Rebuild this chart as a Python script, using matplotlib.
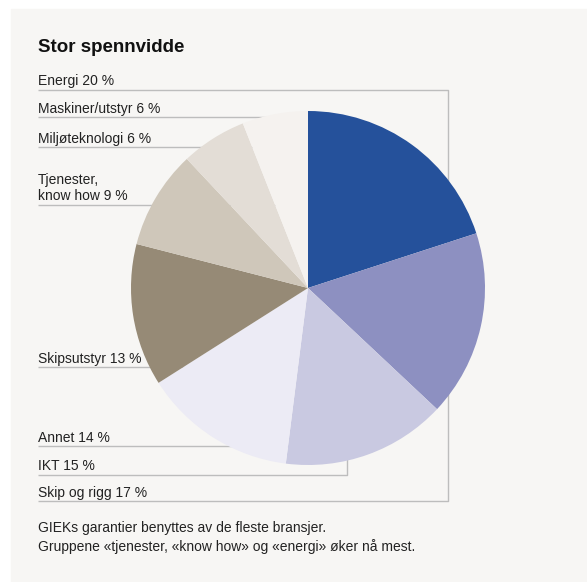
import matplotlib.pyplot as plt
from matplotlib.patches import Rectangle

# Data (clockwise from 12 o'clock)
sectors = ["Energi", "Skip og rigg", "IKT", "Annet", "Skipsutstyr",
           "Tjenester,\nknow how", "Miljøteknologi", "Maskiner/utstyr"]
shares = [20, 17, 15, 14, 13, 9, 6, 6]
colors = ["#25519B", "#8D90C1", "#C9C9E1", "#ECEBF5", "#968A76",
          "#CFC7BA", "#E3DDD6", "#F5F2EF"]

# label rows on the left, top to bottom, with their underline y (pixels)
label_order = ["Energi", "Maskiner/utstyr", "Miljøteknologi", "Tjenester,\nknow how",
               "Skipsutstyr", "Annet", "IKT", "Skip og rigg"]
label_y = [90, 117, 147, 205, 367, 446, 475, 501]

title = "Stor spennvidde"
footer = ("GIEKs garantier benyttes av de fleste bransjer.\n"
          "Gruppene «tjenester, «know how» og «energi» øker nå mest.")

plt.rcParams['font.family'] = ['Liberation Sans Narrow', 'Liberation Sans', 'DejaVu Sans']

W, H = 587, 582
fig = plt.figure(figsize=(W / 100, H / 100), dpi=100)
fig.patch.set_facecolor('white')
ax = fig.add_axes([0, 0, 1, 1])

# pie (y axis is inverted below, so counterclock=True looks clockwise)
ax.pie(shares, colors=colors, startangle=-90, counterclock=True,
       center=(308, 288), radius=177,
       wedgeprops=dict(linewidth=0, zorder=3))

ax.set_xlim(0, W)
ax.set_ylim(H, 0)
ax.set_aspect('auto')
ax.axis('off')

# panel background
ax.add_patch(Rectangle((11, 9), W - 11, H - 9, color='#F7F6F4', zorder=0))

line_kw = dict(color='#BDBDBD', lw=1.0, zorder=2, solid_capstyle='butt')
x0 = 38
y_of = dict(zip(label_order, label_y))

# leader lines
ax.plot([x0, 448, 448, x0], [y_of["Energi"], y_of["Energi"], y_of["Skip og rigg"], y_of["Skip og rigg"]], **line_kw)
ax.plot([x0, 347, 347], [y_of["IKT"], y_of["IKT"], 420], **line_kw)
for name in ["Maskiner/utstyr", "Miljøteknologi", "Tjenester,\nknow how", "Skipsutstyr", "Annet"]:
    ax.plot([x0, 308], [y_of[name], y_of[name]], **line_kw)

# labels
for name, y in zip(label_order, label_y):
    val = shares[sectors.index(name)]
    ax.text(x0, y - 1.5, f"{name} {val} %", fontsize=10, color='#222222',
            ha='left', va='bottom', zorder=4, linespacing=1.25)

ax.text(x0, 52, title, fontsize=13.5, fontweight='bold', color='#111111',
        family=['Liberation Sans', 'DejaVu Sans'], ha='left', va='baseline')

ax.text(x0, 521, footer, fontsize=10, color='#222222', ha='left', va='top',
        linespacing=1.35)

fig.savefig('out.png', dpi=100, facecolor=fig.get_facecolor())
